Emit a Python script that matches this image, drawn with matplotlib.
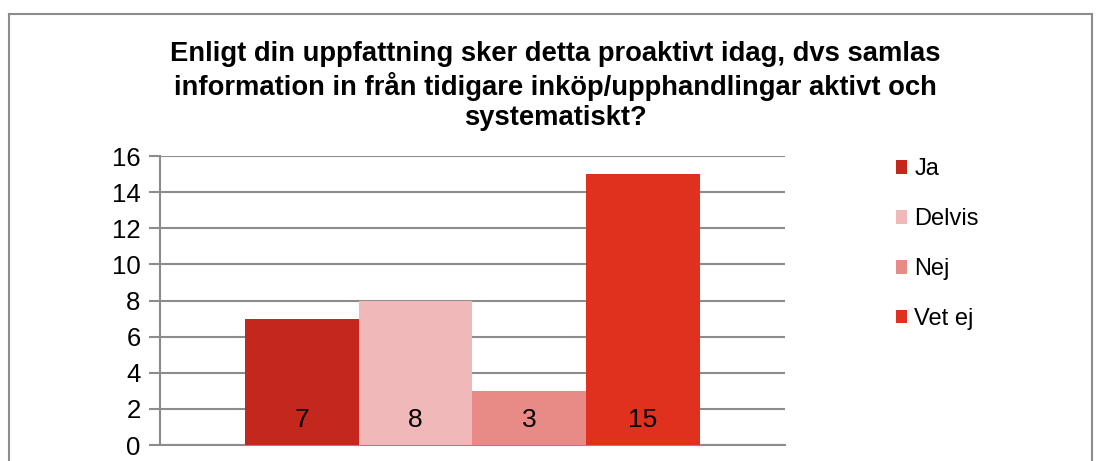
import numpy as np
import matplotlib.pyplot as plt
from matplotlib.lines import Line2D

plt.rcParams['font.family'] = ['Liberation Sans', 'DejaVu Sans']

# data
kategorier = ['Ja', 'Delvis', 'Nej', 'Vet ej']
antal = [7, 8, 3, 15]
farger = ['#C4281C', '#F0B8B8', '#E88A85', '#E0301E']
titel = ('Enligt din uppfattning sker detta proaktivt idag, dvs samlas\n'
         'information in från tidigare inköp/upphandlingar aktivt och\n'
         'systematiskt?')

fig = plt.figure(figsize=(11.02, 4.61), dpi=100)
ax = fig.add_axes([0.1452, 0.0347, 0.5671, 0.6269])

bredd = 0.182
pos = (np.arange(len(antal)) - 1.5) * bredd
staplar = ax.bar(pos, antal, width=bredd, color=farger, label=kategorier, zorder=3)
for x, v in zip(pos, antal):
    ax.text(x, 1.4, str(v), ha='center', va='center', fontsize=19, zorder=4)

ax.set_xlim(-0.5, 0.5)
ax.set_ylim(0, 16)
ax.set_yticks(range(0, 17, 2))
ax.set_xticks([])
ax.grid(axis='y', color='#8c8c8c', linewidth=1.5, zorder=0)
for s in ['top', 'right']:
    ax.spines[s].set_visible(False)
for s in ['left', 'bottom']:
    ax.spines[s].set_color('#8c8c8c')
    ax.spines[s].set_linewidth(1.5)
ax.tick_params(axis='y', labelsize=18.5, length=8, width=1.5, color='#8c8c8c', pad=6)

ax.legend(handles=staplar.patches, labels=kategorier, loc='upper left',
          bbox_to_anchor=(1.143, 1.065), frameon=False, fontsize=17,
          handlelength=0.5, handleheight=0.5, handletextpad=0.3,
          labelspacing=1.18)

fig.text(0.504, 0.911, titel, ha='center', va='top', fontsize=19.7,
         fontweight='bold', linespacing=1.2)

# ram runt diagrammet
grå = '#8c8c8c'
fig.add_artist(Line2D([9/1102, 9/1102], [0, 1 - 14/461], color=grå, lw=1.5))
fig.add_artist(Line2D([9/1102, 1092/1102], [1 - 14/461, 1 - 14/461], color=grå, lw=1.5))
fig.add_artist(Line2D([1092/1102, 1092/1102], [0, 1 - 14/461], color=grå, lw=1.5))

fig.savefig('out.png', dpi=100)
